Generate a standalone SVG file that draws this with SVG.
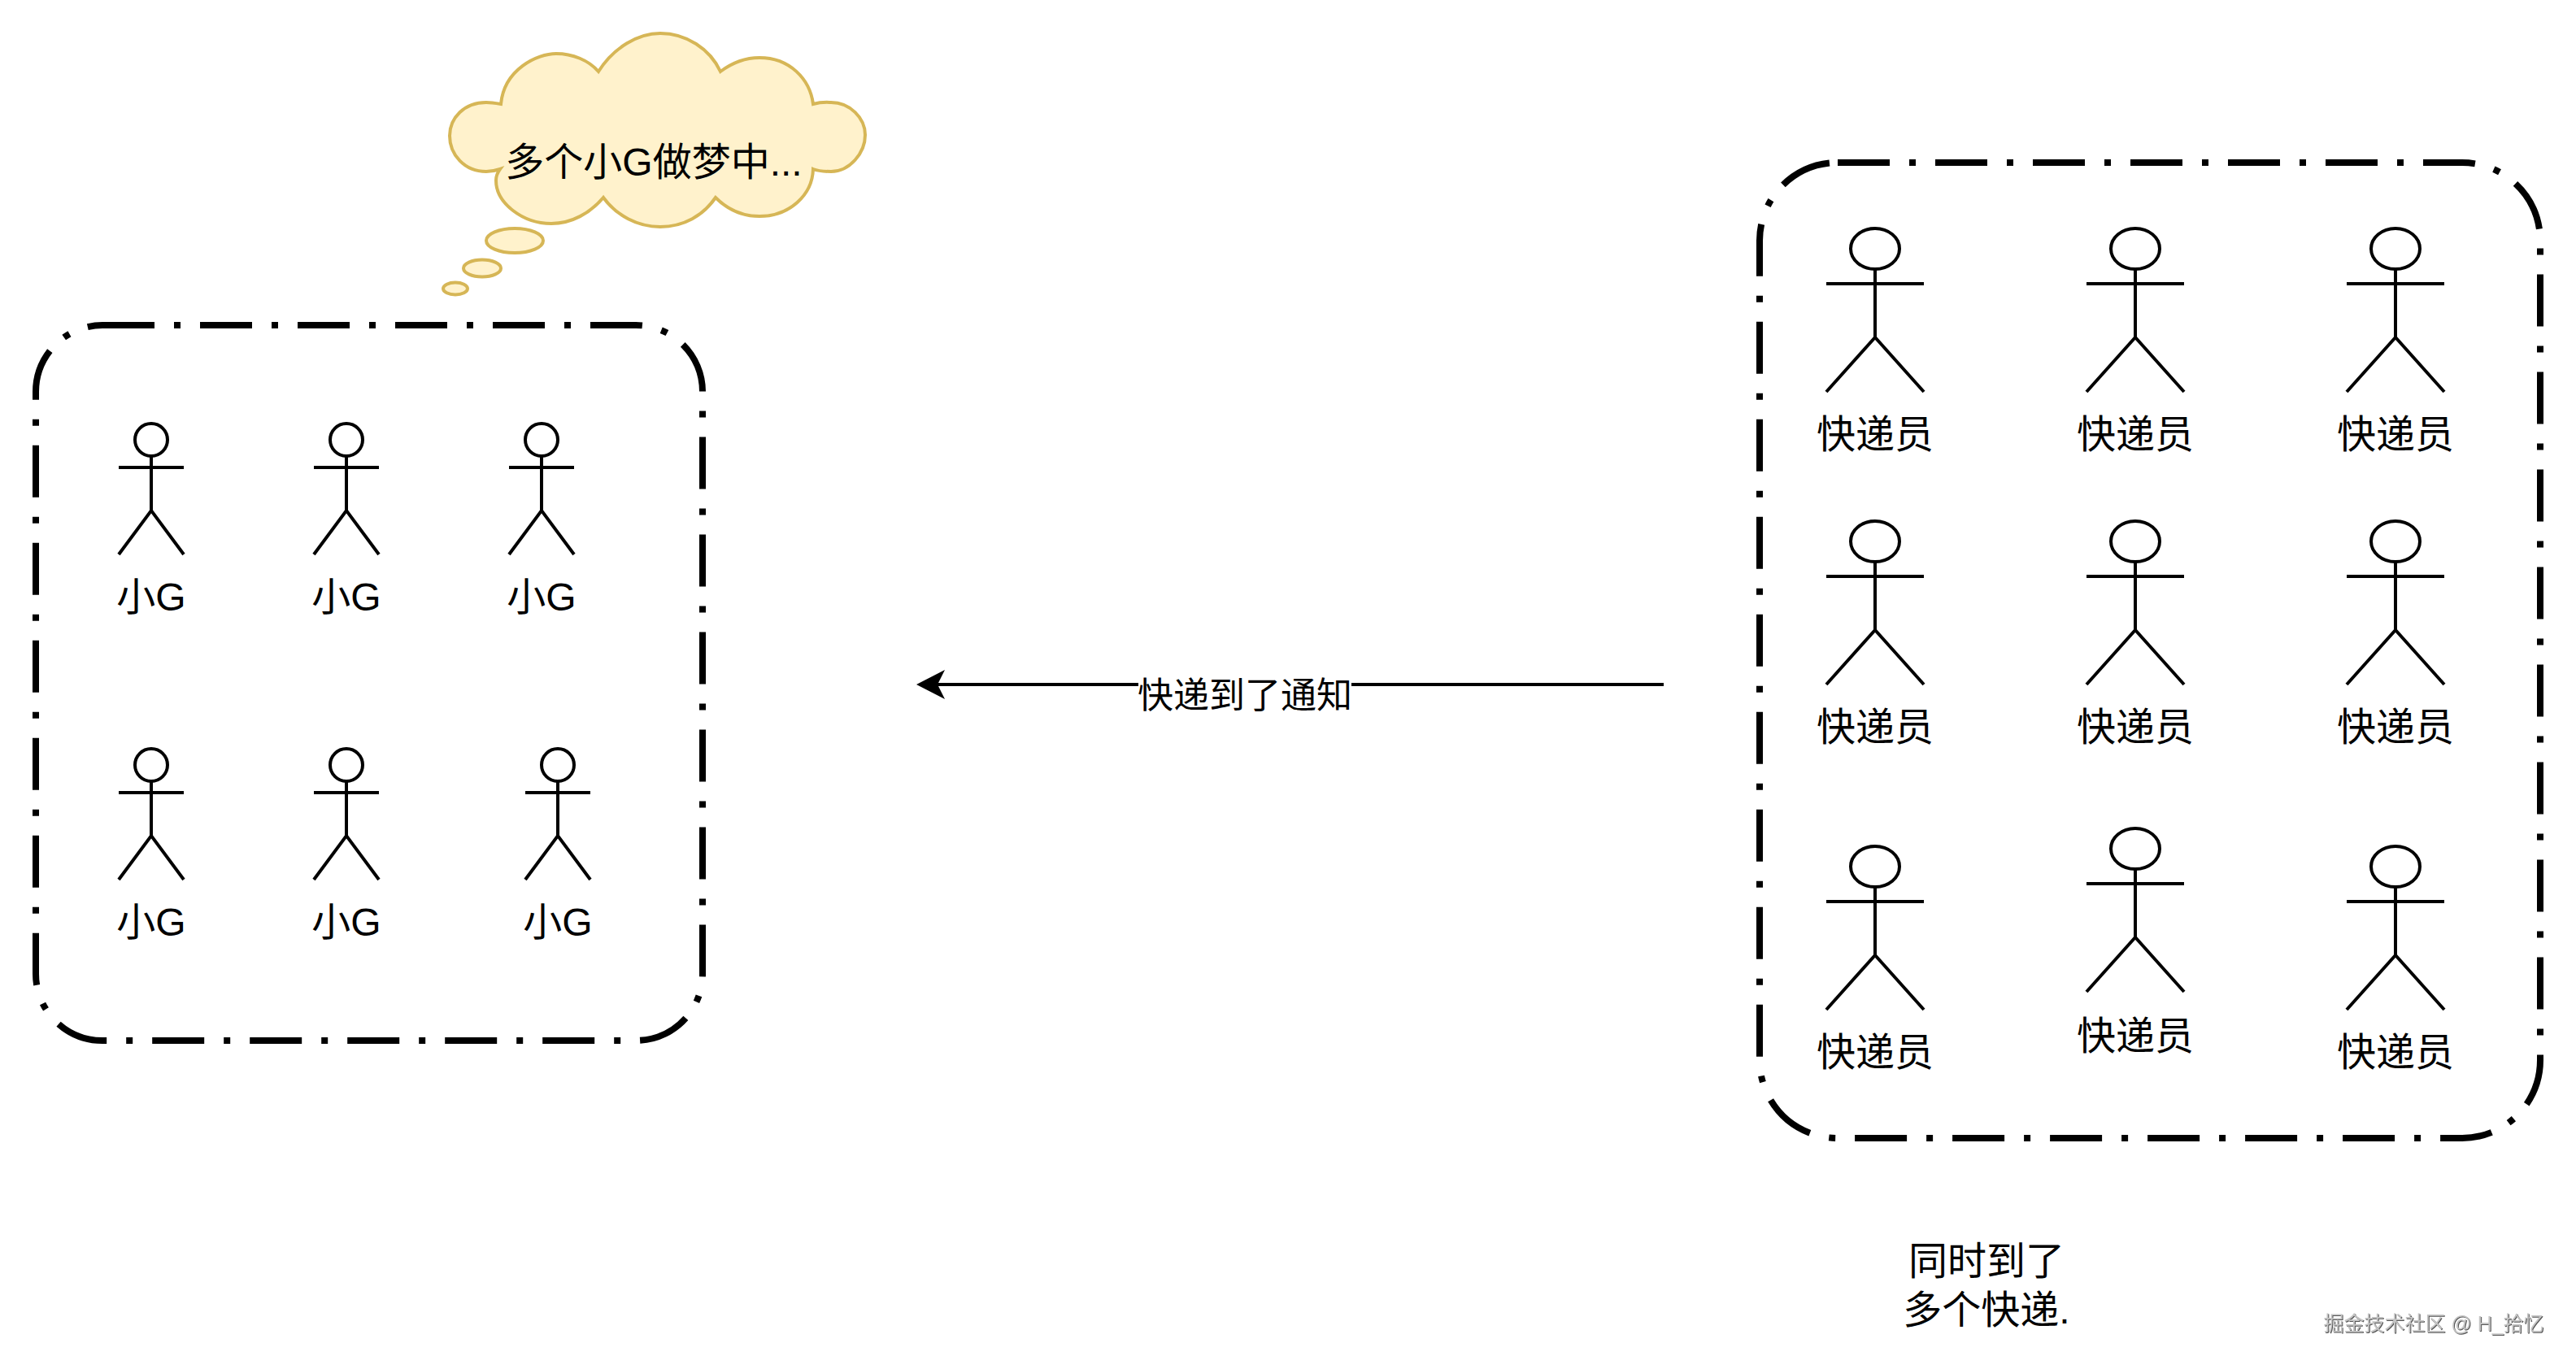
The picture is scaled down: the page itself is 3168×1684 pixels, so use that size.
<svg xmlns="http://www.w3.org/2000/svg" width="3168" height="1684" viewBox="0 0 3168 1684">
<style>
text{font-family:"Liberation Sans","Noto Sans CJK SC",sans-serif;fill:#000;text-anchor:middle}
.lbl{font-size:48px}
.frame{fill:none;stroke:#000;stroke-width:8;stroke-dasharray:64 24 8 24}
.a{fill:none;stroke:#000;stroke-width:4}
.cl{fill:#fff2cc;stroke:#d6b656;stroke-width:4}
.wm{font-size:25px;fill:#c4c4c4;filter:drop-shadow(1px 1px 0 #555)}
</style>
<defs>
<marker id="arrow" markerUnits="userSpaceOnUse" markerWidth="36" markerHeight="36" refX="9" refY="18" orient="auto" viewBox="0 0 36 36"><path d="M35 18L0 0L9 18L0 36Z" fill="#000"/></marker>
<g id="small"><ellipse cx="0" cy="20" rx="20" ry="20" class="a"/><path class="a" d="M0 40V107M-40 54H40M-40 161L0 107L40 161"/></g>
<g id="big"><ellipse cx="0" cy="25" rx="30" ry="25" class="a"/><path class="a" d="M0 50V134M-60 68H60M-60 201L0 134L60 201"/></g>
</defs>
<rect width="3168" height="1684" fill="#fff"/>
<g id="frame-left"><rect class="frame" x="44" y="400" width="820" height="880" rx="82" ry="82"/></g>
<g id="frame-right"><rect class="frame" x="2164" y="200" width="960" height="1200" rx="96" ry="96"/></g>
<g id="cloud">
<ellipse class="cl" cx="633" cy="296" rx="35" ry="15"/>
<ellipse class="cl" cx="593" cy="330" rx="23" ry="10.5"/>
<ellipse class="cl" cx="560" cy="355" rx="15" ry="7.5"/>
<path class="cl" d="M616 128C620 85 661 66 684 66C704 66 724 74 736 88C755 58 785 41 812 41C844 41 873 60 886 88C902 76 919 71 934 71C971 71 996 97 1000 128C1011 125 1019 126 1022 126C1045 126 1064 145 1064 166C1064 188 1045 211 1022 211C1015 211 1005 210 1000 208C999 240 971 266 934 266C911 266 893 256 880 243C865 265 841 279 812 279C784 279 758 265 742 243C726 262 703 275 678 275C643 275 610 250 610 222C610 217 612 212 615 208C609 210 603 211 598 211C571 211 553 190 553 167C553 145 571 126 598 126C603 126 610 127 616 128Z"/>
<text class="lbl" x="804" y="216">多个小G做梦中...</text>
</g>
<g id="actor-g1"><use href="#small" x="186" y="521"/><text class="lbl" x="186" y="751">小G</text></g>
<g id="actor-g2"><use href="#small" x="426" y="521"/><text class="lbl" x="426" y="751">小G</text></g>
<g id="actor-g3"><use href="#small" x="666" y="521"/><text class="lbl" x="666" y="751">小G</text></g>
<g id="actor-g4"><use href="#small" x="186" y="921"/><text class="lbl" x="186" y="1151">小G</text></g>
<g id="actor-g5"><use href="#small" x="426" y="921"/><text class="lbl" x="426" y="1151">小G</text></g>
<g id="actor-g6"><use href="#small" x="686" y="921"/><text class="lbl" x="686" y="1151">小G</text></g>
<g id="actor-k1"><use href="#big" x="2306" y="281"/><text class="lbl" x="2306" y="551">快递员</text></g>
<g id="actor-k2"><use href="#big" x="2626" y="281"/><text class="lbl" x="2626" y="551">快递员</text></g>
<g id="actor-k3"><use href="#big" x="2946" y="281"/><text class="lbl" x="2946" y="551">快递员</text></g>
<g id="actor-k4"><use href="#big" x="2306" y="641"/><text class="lbl" x="2306" y="911">快递员</text></g>
<g id="actor-k5"><use href="#big" x="2626" y="641"/><text class="lbl" x="2626" y="911">快递员</text></g>
<g id="actor-k6"><use href="#big" x="2946" y="641"/><text class="lbl" x="2946" y="911">快递员</text></g>
<g id="actor-k7"><use href="#big" x="2306" y="1041"/><text class="lbl" x="2306" y="1311">快递员</text></g>
<g id="actor-k8"><use href="#big" x="2626" y="1019"/><text class="lbl" x="2626" y="1291">快递员</text></g>
<g id="actor-k9"><use href="#big" x="2946" y="1041"/><text class="lbl" x="2946" y="1311">快递员</text></g>
<g id="connectors">
<path class="a" d="M2046 842H1153" marker-end="url(#arrow)"/>
<rect x="1400" y="820" width="262" height="60" fill="#fff"/>
<text x="1531" y="871" font-size="44">快递到了通知</text>
</g>
<g id="note"><text class="lbl" x="2443" y="1568">同时到了</text><text class="lbl" x="2443" y="1628">多个快递.</text></g>
<g id="watermark"><text class="wm" x="2993" y="1637">掘金技术社区 @ H_拾忆</text></g>
</svg>
